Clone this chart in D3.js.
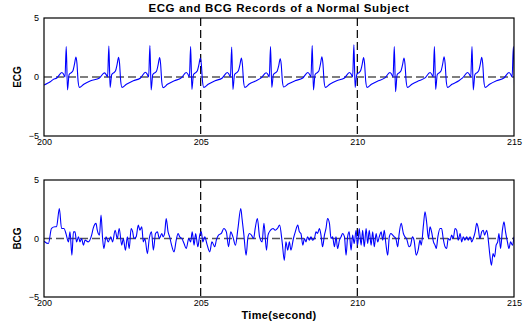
<!DOCTYPE html>
<html>
<head>
<meta charset="utf-8">
<script src="https://cdn.jsdelivr.net/npm/d3@7"></script>
<style>
  body { margin: 0; background: #fff; }
  text { font-family: "Liberation Sans", Arial, sans-serif; }
</style>
</head>
<body>
<div id="chart"></div>
<script>
// ECG trace
const ecgTime = [
  200.00, 200.10, 200.20, 200.30,
  200.41, 200.57, 200.62, 200.67, 200.71, 200.75, 200.80, 200.86, 200.92, 200.97, 201.02, 201.05, 201.09, 201.13, 201.27, 201.49,
  201.77, 201.93, 201.98, 202.03, 202.07, 202.11, 202.16, 202.22, 202.28, 202.33, 202.38, 202.41, 202.45, 202.49, 202.63, 202.85,
  203.08, 203.24, 203.29, 203.34, 203.38, 203.42, 203.47, 203.53, 203.59, 203.64, 203.69, 203.72, 203.76, 203.80, 203.94, 204.16,
  204.38, 204.54, 204.59, 204.64, 204.68, 204.72, 204.77, 204.83, 204.89, 204.94, 204.99, 205.02, 205.06, 205.10, 205.24, 205.46,
  205.69, 205.85, 205.90, 205.95, 205.99, 206.03, 206.08, 206.14, 206.20, 206.25, 206.30, 206.33, 206.37, 206.41, 206.55, 206.77,
  206.93, 207.09, 207.14, 207.19, 207.23, 207.27, 207.32, 207.38, 207.44, 207.49, 207.54, 207.57, 207.61, 207.65, 207.79, 208.01,
  208.26, 208.42, 208.47, 208.52, 208.56, 208.60, 208.65, 208.71, 208.77, 208.82, 208.87, 208.90, 208.94, 208.98, 209.12, 209.34,
  209.59, 209.75, 209.80, 209.85, 209.89, 209.93, 209.98, 210.04, 210.10, 210.15, 210.20, 210.23, 210.27, 210.31, 210.45, 210.67,
  210.88, 211.04, 211.09, 211.14, 211.18, 211.22, 211.27, 211.33, 211.39, 211.44, 211.49, 211.52, 211.56, 211.60, 211.74, 211.96,
  212.16, 212.32, 212.37, 212.42, 212.46, 212.50, 212.55, 212.61, 212.67, 212.72, 212.77, 212.80, 212.84, 212.88, 213.02, 213.24,
  213.36, 213.52, 213.57, 213.62, 213.66, 213.70, 213.75, 213.81, 213.87, 213.92, 213.97, 214.00, 214.04, 214.08, 214.22, 214.44,
  214.68, 214.84, 214.89, 214.94, 214.98, 215.02
];
const ecgValue = [
  -0.68, -0.55, -0.40, -0.20,
  -0.08, 0.38, 0.25, 0.00, 2.57, -1.10, 0.20, 0.35, 0.50, 1.05, 1.70, 1.20, -0.40, -0.88, -0.62, -0.32,
  -0.08, 0.35, 0.22, 0.00, 2.63, -0.88, 0.20, 0.35, 0.50, 1.02, 1.67, 1.18, -0.40, -0.88, -0.62, -0.32,
  -0.08, 0.40, 0.25, 0.00, 2.66, -1.10, 0.20, 0.35, 0.48, 1.00, 1.64, 1.15, -0.45, -0.90, -0.62, -0.32,
  -0.08, 0.38, 0.25, 0.00, 2.57, -1.05, 0.20, 0.35, 0.50, 1.00, 1.61, 1.12, -0.40, -0.88, -0.62, -0.32,
  -0.08, 0.38, 0.25, 0.00, 2.54, -1.05, 0.20, 0.35, 0.50, 1.00, 1.61, 1.12, -0.40, -0.88, -0.60, -0.32,
  -0.08, 0.36, 0.24, 0.00, 2.57, -0.88, 0.20, 0.35, 0.48, 0.95, 1.55, 1.10, -0.40, -0.85, -0.60, -0.32,
  -0.08, 0.38, 0.25, 0.00, 2.66, -1.10, 0.20, 0.35, 0.50, 1.05, 1.72, 1.20, -0.40, -0.88, -0.62, -0.32,
  -0.08, 0.38, 0.25, 0.00, 2.72, -0.88, 0.20, 0.35, 0.50, 1.00, 1.64, 1.15, -0.40, -0.88, -0.62, -0.32,
  -0.08, 0.38, 0.25, 0.00, 2.57, -1.25, 0.20, 0.35, 0.50, 1.00, 1.61, 1.12, -0.40, -0.88, -0.62, -0.32,
  -0.08, 0.38, 0.25, 0.00, 2.57, -1.05, 0.20, 0.35, 0.50, 1.05, 1.72, 1.20, -0.40, -0.88, -0.62, -0.32,
  -0.08, 0.38, 0.25, 0.00, 2.57, -1.10, 0.20, 0.35, 0.50, 1.02, 1.67, 1.18, -0.40, -0.88, -0.62, -0.32,
  -0.08, 0.38, 0.25, 0.00, 2.57, -1.10
];

// BCG trace in four sections
const bcgTime = [
  200.00, 200.14, 200.24, 200.35, 200.40, 200.49, 200.56, 200.64, 200.70, 200.78,
  200.83, 200.89, 200.94, 200.99, 201.04, 201.10, 201.15, 201.20, 201.26, 201.31,
  201.41, 201.52, 201.57, 201.66, 201.70, 201.77, 201.82, 201.87, 201.91, 201.98,
  202.05, 202.13, 202.19, 202.27, 202.34, 202.40, 202.48, 202.53, 202.60, 202.66,
  202.72, 202.78, 202.83, 202.87, 202.94, 203.01, 203.06, 203.12, 203.17, 203.22,
  203.30, 203.36, 203.43, 203.49, 203.56, 203.62, 203.68, 203.76,
  203.80, 203.85, 203.90, 203.96, 204.01, 204.06, 204.15, 204.22, 204.28, 204.33,
  204.40, 204.47, 204.54, 204.62, 204.68, 204.73, 204.79, 204.84, 204.91, 204.97,
  205.02, 205.07, 205.13, 205.21, 205.29, 205.36, 205.45, 205.50, 205.57, 205.66,
  205.74, 205.82, 205.89, 205.96, 206.03, 206.11, 206.19, 206.28, 206.32, 206.38,
  206.45, 206.51, 206.56, 206.62, 206.69, 206.74, 206.81, 206.88, 206.96, 207.02,
  207.10, 207.15, 207.23, 207.31, 207.38, 207.45, 207.52,
  207.60, 207.67, 207.72, 207.78, 207.83, 207.88, 207.96, 208.02, 208.10, 208.15,
  208.20, 208.26, 208.31, 208.36, 208.41, 208.47, 208.52, 208.57, 208.63, 208.68,
  208.73, 208.79, 208.84, 208.89, 208.95, 209.00, 209.05, 209.11, 209.16, 209.21,
  209.27, 209.32, 209.37, 209.43, 209.48, 209.53, 209.59, 209.64, 209.69, 209.74,
  209.80, 209.85, 209.90, 209.96, 210.01, 210.06, 210.12, 210.17, 210.22, 210.28,
  210.33, 210.38, 210.44, 210.49, 210.54, 210.60, 210.65, 210.70, 210.76, 210.81,
  210.86, 210.91, 210.97, 211.02, 211.07, 211.13, 211.18, 211.23, 211.29,
  211.33, 211.40, 211.47, 211.52, 211.57, 211.65, 211.70, 211.76, 211.81, 211.88,
  211.94, 212.00, 212.04, 212.11, 212.16, 212.21, 212.27, 212.32, 212.37, 212.43,
  212.48, 212.52, 212.57, 212.64, 212.69, 212.74, 212.80, 212.85, 212.90, 212.96,
  213.01, 213.06, 213.12, 213.17, 213.22, 213.28, 213.33, 213.38, 213.43, 213.49,
  213.54, 213.60, 213.65, 213.70, 213.76, 213.81, 213.86, 213.91, 213.97, 214.02,
  214.06, 214.13, 214.18, 214.23, 214.28, 214.33, 214.38, 214.43, 214.48, 214.52,
  214.57, 214.63, 214.68, 214.73, 214.79, 214.84, 214.89, 214.95, 215.00
];
const bcgValue = [
  -0.23, -0.43, 0.86, 1.00, 1.00, 2.57, 0.86, 0.86, 0.43, -0.29,
  0.57, -1.43, 0.57, 0.57, -0.29, 0.14, -0.29, 0.00, -0.57, -0.14,
  -0.29, 0.29, 0.86, 1.29, 0.71, 0.29, 2.00, 0.00, -0.86, 0.14,
  -0.29, 0.14, -0.29, 0.71, 0.00, 0.86, -0.57, 0.00, -1.00, 0.14,
  -0.86, 0.86, 0.57, 0.00, 0.14, 1.14, 0.71, 1.00, -0.29, 0.00,
  -1.29, 0.00, 0.57, -1.00, 0.43, 0.57, 0.00, 0.43,
  0.14, 0.43, 1.71, 0.57, 0.14, -0.43, -1.14, -0.14, 0.43, 0.14,
  0.00, -0.43, -0.86, 0.00, -0.29, 0.57, -0.57, 0.43, -0.71, 0.29,
  0.57, -0.29, 0.14, -0.57, -1.14, -0.29, -0.71, -0.14, 0.29, 0.43,
  0.86, 0.57, -0.71, 0.57, 0.14, -0.57, 0.86, 2.57, 1.71, 0.29,
  -1.43, 0.14, 0.43, 0.29, 0.00, 0.86, 1.71, 0.14, -0.29, 1.29,
  -1.00, 0.29, 0.71, 0.86, 0.71, 0.86, 1.14,
  -0.29, -1.86, -0.29, -1.00, -0.29, -1.00, 0.00, 0.57, 1.14, 0.57,
  0.43, -0.57, 0.00, -0.29, 0.14, -0.14, 0.14, -0.14, 0.00, 0.57,
  0.43, 0.86, 0.29, -0.71, 0.29, 0.86, 1.71, 1.29, 0.00, 0.14,
  -0.71, 0.14, -0.86, -0.14, 0.14, 0.43, 0.14, -1.43, 0.14, 0.57,
  -1.00, 0.29, -0.43, 0.71, -0.57, 0.86, -0.57, 0.71, -0.71, 0.86,
  -0.43, 0.71, -0.57, 0.57, -0.71, 0.43, -0.29, 0.14, 0.57, -0.14,
  0.71, -0.43, -1.43, 0.14, 0.43, 0.29, 0.14, 0.00, -0.71,
  0.29, 1.29, 0.43, 0.14, 0.00, -0.71, -0.57, 0.14, -0.14, -1.43,
  -1.00, -0.14, -0.57, 1.14, 2.29, 1.43, 0.00, 1.00, 0.57, -0.29,
  -0.57, -0.86, 0.14, 0.86, 0.86, 0.00, -0.71, -0.86, 0.00, -0.14,
  0.29, 0.00, 0.86, 0.71, -0.14, 0.43, -0.29, 0.14, -0.14, 0.14,
  -0.14, 0.14, -0.29, 0.00, 0.57, 1.29, 0.86, 0.00, 0.57, 0.71,
  0.29, 0.71, -0.14, -1.43, -2.29, -1.29, -1.57, -0.57, -0.29, 0.43,
  -0.86, 0.71, 1.43, 0.57, -0.29, -0.86, -0.29, -0.57, 0.14
];

const xTicks = [200, 205, 210, 215];
const yTicks = [-5, 0, 5];
const markTimes = [205, 210];

const width = 527, height = 324;
const plotLeft = 44, plotRight = 514;

const panels = [
  { name: "ECG", top: 18, bottom: 136, t: ecgTime, v: ecgValue },
  { name: "BCG", top: 180, bottom: 297, t: bcgTime, v: bcgValue }
];

const svg = d3.select("#chart")
  .append("svg")
  .attr("width", width)
  .attr("height", height);

const x = d3.scaleLinear().domain([200, 215]).range([plotLeft, plotRight]);

panels.forEach((p, i) => {
  const y = d3.scaleLinear().domain([-5, 5]).range([p.bottom, p.top]);
  const g = svg.append("g");

  g.append("clipPath").attr("id", "clip" + i)
    .append("rect")
    .attr("x", x(200)).attr("y", y(5))
    .attr("width", x(215) - x(200)).attr("height", y(-5) - y(5));

  // zero line
  g.append("line")
    .attr("x1", x(200)).attr("x2", x(215))
    .attr("y1", y(0)).attr("y2", y(0))
    .attr("stroke", "#555")
    .attr("stroke-width", 1.5)
    .attr("stroke-dasharray", "8,4");

  // markers at 205 and 210
  g.selectAll(".mark")
    .data(markTimes)
    .enter()
    .append("line")
    .attr("x1", d => x(d)).attr("x2", d => x(d))
    .attr("y1", y(5)).attr("y2", y(-5))
    .attr("stroke", "#000")
    .attr("stroke-width", 1.2)
    .attr("stroke-dasharray", "8,4");

  const line = d3.line()
    .curve(d3.curveMonotoneX)
    .x(d => x(d[0]))
    .y(d => y(d[1]));

  g.append("path")
    .datum(d3.zip(p.t, p.v))
    .attr("clip-path", "url(#clip" + i + ")")
    .attr("d", line)
    .attr("fill", "none")
    .attr("stroke", "#0000ff")
    .attr("stroke-width", 1.1)
    .attr("stroke-linejoin", "round");

  // axes
  const xAxis = g.append("g")
    .attr("transform", "translate(0," + p.bottom + ")")
    .call(d3.axisBottom(x).tickValues(xTicks).tickSize(0).tickPadding(3).tickFormat(d3.format("d")));
  const yAxis = g.append("g")
    .attr("transform", "translate(" + plotLeft + ",0)")
    .call(d3.axisLeft(y).tickValues(yTicks).tickSize(0).tickPadding(5).tickFormat(d3.format("d")));
  [xAxis, yAxis].forEach(a => {
    a.select(".domain").remove();
    a.selectAll("text").style("font-size", "9px").attr("fill", "#000");
  });

  // frame
  g.append("rect")
    .attr("x", x(200)).attr("y", y(5))
    .attr("width", x(215) - x(200)).attr("height", y(-5) - y(5))
    .attr("fill", "none")
    .attr("stroke", "#000")
    .attr("stroke-width", 1.2);

  g.append("text")
    .attr("transform", "translate(17," + y(0) + ") rotate(-90)")
    .attr("text-anchor", "middle")
    .attr("dy", "0.35em")
    .style("font-size", "10px")
    .style("font-weight", "bold")
    .text(p.name);
});

svg.append("text")
  .attr("x", (plotLeft + plotRight) / 2)
  .attr("y", 12)
  .attr("text-anchor", "middle")
  .style("font-size", "11.5px")
  .style("font-weight", "bold")
  .style("letter-spacing", "0.6px")
  .text("ECG and BCG Records of a Normal Subject");

svg.append("text")
  .attr("x", (plotLeft + plotRight) / 2)
  .attr("y", 319)
  .attr("text-anchor", "middle")
  .style("font-size", "11px")
  .style("font-weight", "bold")
  .style("letter-spacing", "0.3px")
  .text("Time(second)");
</script>
</body>
</html>
